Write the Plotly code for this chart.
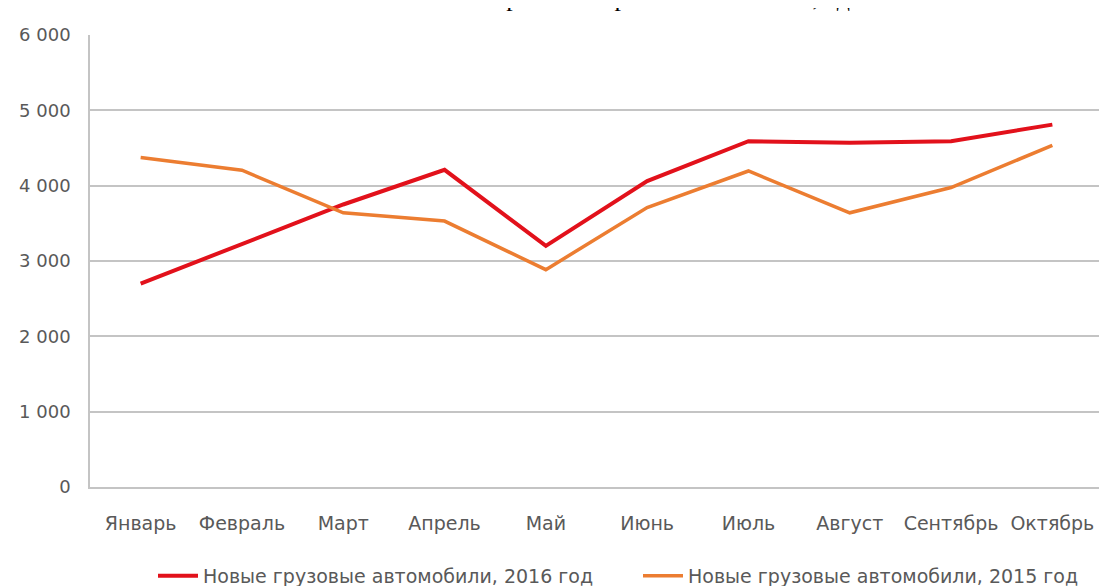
import plotly.graph_objects as go

months = ["Январь", "Февраль", "Март", "Апрель", "Май", "Июнь", "Июль", "Август", "Сентябрь", "Октябрь"]
trucks_2016 = [2700, 3230, 3750, 4210, 3200, 4060, 4590, 4570, 4590, 4810]
trucks_2015 = [4375, 4205, 3640, 3530, 2885, 3710, 4195, 3640, 3975, 4535]
name_2016 = "Новые грузовые автомобили, 2016 год"
name_2015 = "Новые грузовые автомобили, 2015 год"
title_text = "Сравнение рынка новых авто, ед."
y_ticks = [0, 1000, 2000, 3000, 4000, 5000, 6000]

W, H = 1107, 586
OFF = 8  # page body margin of the browser
ml, mt = 90 - OFF, 35 - OFF
mr = W - (1103 - OFF)
mb = H - (487 - OFF)
pw, ph = W - ml - mr, H - mt - mb

fig = go.Figure()
fig.add_trace(go.Scatter(x=months, y=trucks_2016, name=name_2016, mode="lines",
                         line=dict(color="#E2111B", width=4)))
fig.add_trace(go.Scatter(x=months, y=trucks_2015, name=name_2015, mode="lines",
                         line=dict(color="#EC7D31", width=3.5)))

grid = "#C4C4C4"
tickfont = dict(family="DejaVu Sans", size=18, color="#595959")

fig.update_layout(
    width=W, height=H,
    margin=dict(l=ml, r=mr, t=mt, b=mb, autoexpand=False),
    paper_bgcolor="white", plot_bgcolor="white",
    separators=", ",
    showlegend=True,
    legend=dict(orientation="h", xref="container", yref="container",
                x=(158 - 5 - OFF) / W, xanchor="left",
                y=(H - (576 - OFF)) / H, yanchor="middle",
                font=dict(family="DejaVu Sans", size=19, color="#595959"),
                entrywidth=430, entrywidthmode="pixels",
                itemwidth=40, tracegroupgap=0),
    xaxis=dict(type="category", range=[-0.5, 9.5], showgrid=False,
               showline=True, linecolor=grid, linewidth=1.5, automargin=False,
               tickfont=dict(family="DejaVu Sans", size=19, color="#595959"),
               ticks="", ticklabelstandoff=18),
    yaxis=dict(range=[0, 6000], tickvals=y_ticks, tickformat=",d",
               showgrid=True, gridcolor=grid, gridwidth=1.5, automargin=False,
               showline=True, linecolor=grid, linewidth=1.5,
               zeroline=False, tickfont=tickfont, ticks="",
               ticklabelstandoff=14),
    annotations=[dict(text=title_text, xref="paper", yref="paper",
                      x=(487 - 90) / pw, xanchor="left",
                      y=1 + (35 - 14) / ph, yanchor="bottom",
                      showarrow=False,
                      font=dict(family="Liberation Serif", size=26, color="black"))],
)

fig.write_html("out.html")
